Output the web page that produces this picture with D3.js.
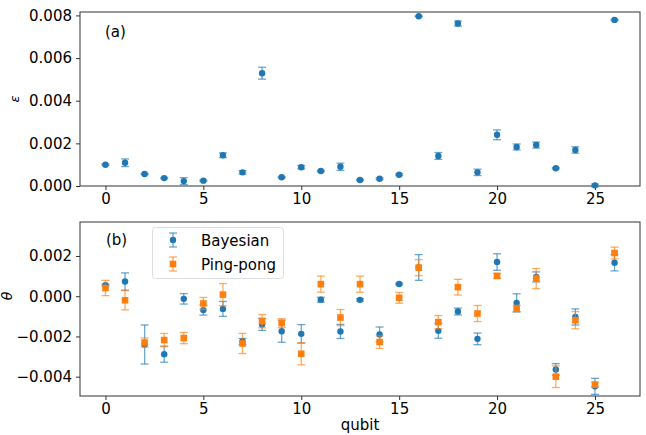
<!DOCTYPE html>
<html>
<head>
<meta charset="utf-8">
<script src="https://cdn.jsdelivr.net/npm/d3@7"></script>
<style>
  html, body { margin: 0; padding: 0; background: #fff; }
  svg { display: block; font-family: "DejaVu Sans", sans-serif; }
</style>
</head>
<body>
<svg id="chart" width="646" height="435"></svg>
<script>
// Qubit indices
const qubits = d3.range(0, 27);

// Panel (a): epsilon per qubit and its uncertainty
const epsilon = [0.00100, 0.00109, 0.00056, 0.00037, 0.00023, 0.00025, 0.00144, 0.00064, 0.00529,
  0.00041, 0.00088, 0.00070, 0.00090, 0.00028, 0.00034, 0.00053, 0.00796, 0.00141, 0.00762,
  0.00064, 0.00240, 0.00183, 0.00192, 0.00083, 0.00169, 0.00003, 0.00779];
const epsilonErr = [0.00003, 0.00018, 0.00003, 0.00003, 0.00016, 0.00003, 0.00011, 0.00008, 0.00028,
  0.00003, 0.00008, 0.00003, 0.00017, 0.00003, 0.00004, 0.00004, 0.00002, 0.00016, 0.00012,
  0.00015, 0.00023, 0.00014, 0.00014, 0.00003, 0.00015, 0.00006, 0.00003];

// Panel (b): theta from the two estimation methods
const thetaBayes = [0.00055, 0.00073, -0.00240, -0.00288, -0.00013, -0.00069, -0.00063, -0.00225, -0.00140,
  -0.00174, -0.00187, -0.00017, -0.00175, -0.00018, -0.00190, 0.00061, 0.00143, -0.00172, -0.00076,
  -0.00212, 0.00170, -0.00033, 0.00096, -0.00364, -0.00103, -0.00448, 0.00167];
const thetaBayesErr = [0.00005, 0.00043, 0.00097, 0.00040, 0.00026, 0.00025, 0.00037, 0.00015, 0.00030,
  0.00055, 0.00046, 0.00012, 0.00035, 0.00006, 0.00037, 0.00004, 0.00064, 0.00037, 0.00017,
  0.00029, 0.00041, 0.00045, 0.00025, 0.00029, 0.00040, 0.00040, 0.00041];
const thetaPing = [0.00041, -0.00020, -0.00230, -0.00218, -0.00208, -0.00036, 0.00008, -0.00235, -0.00124,
  -0.00134, -0.00286, 0.00060, -0.00106, 0.00060, -0.00228, -0.00008, 0.00142, -0.00129, 0.00045,
  -0.00086, 0.00101, -0.00061, 0.00088, -0.00400, -0.00119, -0.00440, 0.00215];
const thetaPingErr = [0.00038, 0.00048, 0.00023, 0.00033, 0.00028, 0.00030, 0.00055, 0.00050, 0.00033,
  0.00022, 0.00055, 0.00040, 0.00040, 0.00040, 0.00031, 0.00027, 0.00040, 0.00033, 0.00039,
  0.00040, 0.00012, 0.00016, 0.00050, 0.00054, 0.00043, 0.00013, 0.00029];

const xTicks = [0, 5, 10, 15, 20, 25];
const epsTicks = [0, 0.002, 0.004, 0.006, 0.008];
const thetaTicks = [-0.004, -0.002, 0, 0.002];
const seriesNames = ["Bayesian", "Ping-pong"];

const BLUE = "#1f77b4", ORANGE = "#ff7f0e";
const FS = 15;
const svg = d3.select("#chart");

const left = 80, right = 640;
const x = d3.scaleLinear().domain([-1.3, 27.3]).range([left, right]);

const yA = d3.scaleLinear().domain([0, 0.00816]).range([186, 12]);
const yB = d3.scaleLinear().domain([-0.00496, 0.00369]).range([396, 222]);

const fmt = v => {
  const s = d3.format(".3f")(Math.abs(v));
  return (v < -1e-12 ? "\u2212" : "") + s;
};

function drawFrame(y, yTicks, top, bottom) {
  const g = svg.append("g");
  // x axis
  const ax = g.append("g").attr("transform", `translate(0,${bottom})`)
    .call(d3.axisBottom(x).tickValues(xTicks).tickFormat(d3.format("d")).tickSizeOuter(0).tickSize(4).tickPadding(3));
  // y axis
  const ay = g.append("g").attr("transform", `translate(${left},0)`)
    .call(d3.axisLeft(y).tickValues(yTicks).tickFormat(fmt).tickSizeOuter(0).tickSize(4).tickPadding(4));
  [ax, ay].forEach(a => {
    a.select(".domain").remove();
    a.selectAll("line").attr("stroke", "#333");
    a.selectAll("text").attr("font-size", FS).attr("fill", "#000")
      .attr("font-family", "DejaVu Sans, sans-serif");
  });
  g.append("rect").attr("x", left).attr("y", top)
    .attr("width", right - left).attr("height", bottom - top)
    .attr("fill", "none").attr("stroke", "#333").attr("stroke-width", 1);
  return g;
}

function errorBars(g, y, vals, errs, color) {
  const cap = 4;
  const eb = g.append("g").attr("stroke", color).attr("stroke-opacity", 0.65).attr("stroke-width", 1.3);
  qubits.forEach(i => {
    const cx = x(i), y1 = y(vals[i] - errs[i]), y2 = y(vals[i] + errs[i]);
    eb.append("line").attr("x1", cx).attr("x2", cx).attr("y1", y1).attr("y2", y2);
    eb.append("line").attr("x1", cx - cap).attr("x2", cx + cap).attr("y1", y1).attr("y2", y1);
    eb.append("line").attr("x1", cx - cap).attr("x2", cx + cap).attr("y1", y2).attr("y2", y2);
  });
}

// Panel (a)
const gA = drawFrame(yA, epsTicks, 12, 186);
errorBars(gA, yA, epsilon, epsilonErr, BLUE);
gA.selectAll("circle").data(qubits).join("circle")
  .attr("cx", d => x(d)).attr("cy", d => yA(epsilon[d])).attr("r", 3.2).attr("fill", BLUE);
gA.append("text").attr("x", 105).attr("y", 37).attr("font-size", FS).text("(a)");
gA.append("text").attr("transform", `translate(19,99) rotate(-90)`)
  .attr("text-anchor", "middle").attr("font-size", 13).attr("font-style", "italic").text("ε");

// Panel (b)
const gB = drawFrame(yB, thetaTicks, 222, 396);
errorBars(gB, yB, thetaBayes, thetaBayesErr, BLUE);
gB.selectAll("circle").data(qubits).join("circle")
  .attr("cx", d => x(d)).attr("cy", d => yB(thetaBayes[d])).attr("r", 3.2).attr("fill", BLUE);
errorBars(gB, yB, thetaPing, thetaPingErr, ORANGE);
gB.selectAll("rect.sq").data(qubits).join("rect").attr("class", "sq")
  .attr("x", d => x(d) - 3.3).attr("y", d => yB(thetaPing[d]) - 3.3)
  .attr("width", 6.6).attr("height", 6.6).attr("fill", ORANGE);
gB.append("text").attr("x", 106).attr("y", 245).attr("font-size", FS).text("(b)");
gB.append("text").attr("transform", `translate(12,296) rotate(-90)`)
  .attr("text-anchor", "middle").attr("font-size", 14).attr("font-style", "italic").text("θ");
gB.append("text").attr("x", (left + right) / 2).attr("y", 430)
  .attr("text-anchor", "middle").attr("font-size", FS).text("qubit");

// Legend
const lg = gB.append("g");
lg.append("rect").attr("x", 152.5).attr("y", 227.5).attr("width", 131).attr("height", 51)
  .attr("rx", 3).attr("fill", "#fff").attr("fill-opacity", 0.8).attr("stroke", "#ddd");
seriesNames.forEach((name, i) => {
  const cy = 240 + i * 24, cx = 173, color = i === 0 ? BLUE : ORANGE;
  const e = lg.append("g").attr("stroke", color).attr("stroke-opacity", 0.65).attr("stroke-width", 1.3);
  e.append("line").attr("x1", cx).attr("x2", cx).attr("y1", cy - 7).attr("y2", cy + 7);
  e.append("line").attr("x1", cx - 4).attr("x2", cx + 4).attr("y1", cy - 7).attr("y2", cy - 7);
  e.append("line").attr("x1", cx - 4).attr("x2", cx + 4).attr("y1", cy + 7).attr("y2", cy + 7);
  if (i === 0) lg.append("circle").attr("cx", cx).attr("cy", cy).attr("r", 3.2).attr("fill", color);
  else lg.append("rect").attr("x", cx - 3.3).attr("y", cy - 3.3).attr("width", 6.6).attr("height", 6.6).attr("fill", color);
  lg.append("text").attr("x", 201).attr("y", cy + 5.5).attr("font-size", FS).text(name);
});
</script>
</body>
</html>
